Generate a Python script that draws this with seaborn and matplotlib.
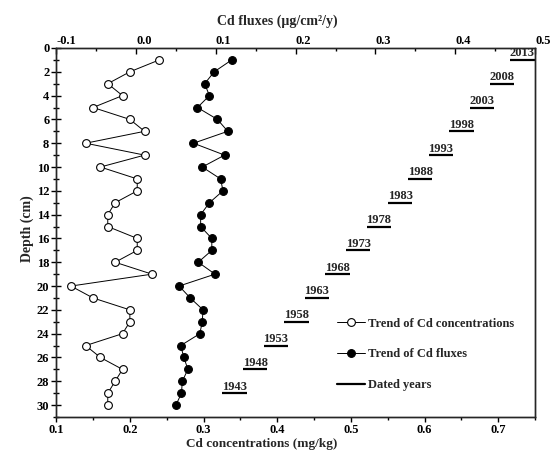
import numpy as np
import pandas as pd
import seaborn as sns
import matplotlib.pyplot as plt
from matplotlib.lines import Line2D
from matplotlib.ticker import MultipleLocator

# depth of each sample slice (cm)
depth = list(range(1, 31))
cd_conc = [0.24, 0.20, 0.17, 0.19, 0.15, 0.20, 0.22, 0.14, 0.22, 0.16,
           0.21, 0.21, 0.18, 0.17, 0.17, 0.21, 0.21, 0.18, 0.23, 0.12,
           0.15, 0.20, 0.20, 0.19, 0.14, 0.16, 0.19, 0.18, 0.17, 0.17]
cd_flux = [0.120, 0.098, 0.086, 0.092, 0.077, 0.102, 0.115, 0.072, 0.111, 0.083,
           0.106, 0.109, 0.092, 0.081, 0.081, 0.095, 0.095, 0.078, 0.099, 0.054,
           0.068, 0.084, 0.083, 0.080, 0.056, 0.060, 0.065, 0.058, 0.057, 0.050]

# dated years (210Pb), depth and position on concentration axis
years = [2013, 2008, 2003, 1998, 1993, 1988, 1983, 1978,
         1973, 1968, 1963, 1958, 1953, 1948, 1943]
year_depth = [1, 3, 5, 7, 9, 11, 13, 15, 17, 19, 21, 23, 25, 27, 29]
year_pos = [0.733, 0.705, 0.678, 0.650, 0.622, 0.594, 0.567, 0.538,
            0.510, 0.482, 0.454, 0.426, 0.398, 0.370, 0.342]

sns.set_style('ticks')
plt.rcParams['font.family'] = ['Liberation Serif', 'DejaVu Serif']
plt.rcParams['font.weight'] = 'bold'
plt.rcParams['axes.labelweight'] = 'bold'
plt.rcParams['axes.linewidth'] = 1.0
plt.rcParams['xtick.color'] = 'black'
plt.rcParams['ytick.color'] = 'black'

conc_df = pd.DataFrame({'depth': depth, 'conc': cd_conc})
flux_df = pd.DataFrame({'depth': depth, 'flux': cd_flux})

fig = plt.figure(figsize=(5.51, 4.51), dpi=100)
ax = fig.add_axes([0.102, 0.0754, 0.869, 0.8182])
ax2 = ax.twiny()

sns.lineplot(data=conc_df, x='conc', y='depth', orient='y', sort=False,
             estimator=None, ax=ax, color='black', lw=0.7, marker='o',
             markersize=5.6, markerfacecolor='white', markeredgecolor='black',
             markeredgewidth=0.8)
sns.lineplot(data=flux_df, x='flux', y='depth', orient='y', sort=False,
             estimator=None, ax=ax2, color='black', lw=0.7, marker='o',
             markersize=5.6, markerfacecolor='black', markeredgecolor='black',
             markeredgewidth=0.8)

# dated years bars + labels
half = 0.0165
ax.hlines(year_depth, [p - half for p in year_pos], [p + half for p in year_pos],
          color='black', lw=1.6)
for yr, d, p in zip(years, year_depth, year_pos):
    ax.annotate(str(yr), (p, d), xytext=(0, 2.5), textcoords='offset points',
                ha='center', va='baseline', fontsize=9, fontweight='bold')

ax.set_ylim(31, 0)
ax.set_xlim(0.1, 0.75)
ax2.set_xlim(-0.1, 0.5)

ax.yaxis.set_major_locator(MultipleLocator(2))
ax.yaxis.set_minor_locator(MultipleLocator(1))
ax.set_xticks([0.1, 0.2, 0.3, 0.4, 0.5, 0.6, 0.7])
ax.set_xticklabels(['0.1', '0.2', '0.3', '0.4', '0.5', '0.6', '0.7'])
ax.xaxis.set_minor_locator(MultipleLocator(0.05))
ax2.set_xticks([-0.1, 0.0, 0.1, 0.2, 0.3, 0.4, 0.5])
ax2.set_xticklabels(['-0.1', '0.0', '0.1', '0.2', '0.3', '0.4', '0.5'], ha='left')
ax2.xaxis.set_minor_locator(MultipleLocator(0.05))

ax.tick_params(axis='y', which='major', direction='inout', length=7, width=1,
               labelsize=9, pad=1.5, right=False)
ax.tick_params(axis='y', which='minor', direction='inout', length=4, width=1, right=False)
ax.tick_params(axis='x', which='major', direction='out', length=3.5, width=1,
               labelsize=9, pad=1.5, top=False)
ax.tick_params(axis='x', which='minor', direction='out', length=2, width=1, top=False)
ax2.tick_params(axis='x', which='major', direction='in', length=4.5, width=1,
                labelsize=9, pad=0.5, bottom=False)
ax2.tick_params(axis='x', which='minor', direction='in', length=2.5, width=1, bottom=False)

ax.set_xlabel('Cd concentrations (mg/kg)', fontsize=9.5, fontweight='bold')
ax.set_ylabel('Depth (cm)', fontsize=10, fontweight='bold')
ax2.set_xlabel('Cd fluxes (µg/cm²/y)', fontsize=10, fontweight='bold')
ax.xaxis.set_label_coords(0.43, -0.058)
ax.yaxis.set_label_coords(-0.046, 0.51)
ax2.xaxis.set_label_coords(0.461, 1.062)

handles = [
    Line2D([], [], color='black', lw=0.7, marker='o', markersize=5.6,
           markerfacecolor='white', markeredgecolor='black', markeredgewidth=0.8),
    Line2D([], [], color='black', lw=0.7, marker='o', markersize=5.6,
           markerfacecolor='black', markeredgecolor='black', markeredgewidth=0.8),
    Line2D([], [], color='black', lw=1.6),
]
labels = ['Trend of Cd concentrations', 'Trend of Cd fluxes', 'Dated years']
ax2.legend(handles, labels, loc='upper left', bbox_to_anchor=(0.611, 0.296),
           bbox_transform=fig.transFigure, frameon=False, borderpad=0,
           borderaxespad=0, handlelength=2.3, handletextpad=0.2,
           labelspacing=1.5, prop={'size': 9, 'weight': 'bold'})

plt.savefig('out.png', dpi=100)
